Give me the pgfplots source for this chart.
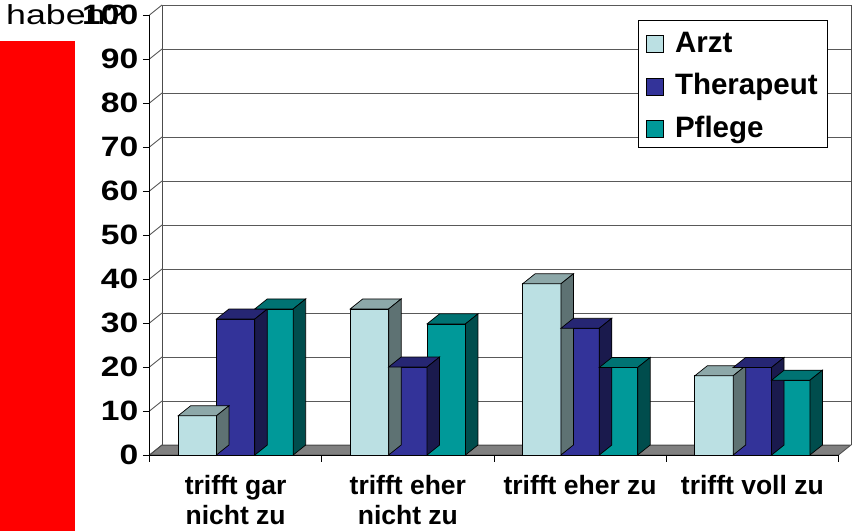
\documentclass[border=0pt]{standalone}
\usepackage{pgfplots}
\pgfplotsset{compat=1.18}
\usepackage{pgfplotstable}
\usepackage{fontspec}
\setmainfont{Liberation Sans}
\newfontfamily\tickfont{Liberation Sans}[FakeStretch=1.2]
\newfontfamily\habenfont{Liberation Sans}[FakeStretch=1.3]

\definecolor{arztF}{HTML}{BBE0E3}
\definecolor{arztT}{HTML}{8DA8A9}
\definecolor{arztS}{HTML}{5E7273}
\definecolor{thF}{HTML}{333399}
\definecolor{thT}{HTML}{262673}
\definecolor{thS}{HTML}{1A1A4D}
\definecolor{pfF}{HTML}{009999}
\definecolor{pfT}{HTML}{007373}
\definecolor{pfS}{HTML}{004D4D}
\definecolor{floorgray}{HTML}{808080}

\pgfplotstableread{
x arzt therapeut pflege
0 8.9 30.9 33.2
1 33.2 20.0 29.8
2 38.9 28.8 19.9
3 18.0 19.9 17.0
}\data

% 3D top and side faces of a bar; origin = top centre of the category
\newcommand\defbarmark[4]{%
  \pgfdeclareplotmark{#1}{%
    \pgfsetlinewidth{0.7pt}\pgfsetstrokecolor{black}%
    \pgfpathmoveto{\pgfpoint{#2-19.2pt}{0pt}}%
    \pgfpathlineto{\pgfpoint{#2+19.2pt}{0pt}}%
    \pgfpathlineto{\pgfpoint{#2+31.7pt}{10pt}}%
    \pgfpathlineto{\pgfpoint{#2-6.7pt}{10pt}}%
    \pgfpathclose
    \pgfsetfillcolor{#3}\pgfusepath{fill,stroke}%
    \pgfpathmoveto{\pgfpoint{#2+19.2pt}{0pt}}%
    \pgfpathlineto{\pgfpoint{#2+31.7pt}{10pt}}%
    \pgfpathlineto{\pgfpoint{#2+31.7pt}{10pt-4.4pt*\barval}}%
    \pgfpathlineto{\pgfpoint{#2+19.2pt}{-4.4pt*\barval}}%
    \pgfpathclose
    \pgfsetfillcolor{#4}\pgfusepath{fill,stroke}%
  }}
\defbarmark{bar3dA}{-38.4pt}{arztT}{arztS}
\defbarmark{bar3dT}{0pt}{thT}{thS}
\defbarmark{bar3dP}{38.4pt}{pfT}{pfS}

\pgfplotsset{
  sqlegend/.style={legend image code/.code={\draw[##1, draw=black, line width=0.8pt] (4pt,-11pt) rectangle (21pt,6pt);}},
  frontbar/.style={ybar, bar width=38.4pt, draw=black, line width=0.7pt},
}

\begin{document}
\begin{tikzpicture}[x=1pt,y=1pt]
\useasboundingbox (0,0) rectangle (855,531);
\fill[red] (0,0) rectangle (75,490);
\node[anchor=base west, inner sep=0pt, font=\habenfont\fontsize{27.5}{30}\selectfont] at (6,506) {haben?};
% floor and walls
\filldraw[fill=floorgray, draw=black!70, line width=0.8pt] (149.5,76) -- (838.5,76) -- (851,86) -- (162,86) -- cycle;
\foreach \v in {0,10,...,100} \draw[black!70, line width=0.8pt] (149.5,76+4.4*\v) -- (162,86+4.4*\v);
\draw[black!70, line width=0.8pt] (162,86) -- (162,526);
\draw[black!70, line width=0.8pt] (851,86) -- (851,526);
\begin{axis}[
  at={(149.5pt,76pt)}, anchor=south west,
  scale only axis, width=689pt, height=440pt,
  xmin=-0.5, xmax=3.5, ymin=0, ymax=100,
  clip=false,
  axis x line*=bottom, axis y line*=left,
  axis line style={black, line width=1pt},
  tick align=outside, major tick length=6.5pt,
  tick style={black, line width=0.8pt},
  ytick={0,10,...,100},
  yticklabel style={font=\tickfont\bfseries\fontsize{28}{30}\selectfont, inner sep=0pt, xshift=-4.5pt},
  /pgf/number format/assume math mode=true,
  xtick={-0.5,0.5,1.5,2.5,3.5}, xticklabel=\empty,
  extra x ticks={0,1,2,3},
  extra x tick labels={{trifft gar\\nicht zu},{trifft eher\\nicht zu},{trifft eher zu},{trifft voll zu}},
  extra x tick style={major tick length=0pt, xticklabel style={align=center, font=\bfseries\fontsize{26.5}{30}\selectfont, anchor=north, inner sep=0pt, yshift=-20pt}},
  ymajorgrids,
  major grid style={black!65, line width=0.8pt, xshift=12.5pt, yshift=10pt},
  legend style={at={(axis description cs:0.9848,0.9886)}, anchor=north east,
    draw=black, line width=0.8pt, fill=white,
    font=\bfseries\fontsize{29.5}{30}\selectfont,
    inner xsep=8pt, inner ysep=5pt, row sep=10.5pt, column sep=9pt,
    nodes={inner sep=2pt, text height=25pt, text depth=3pt}},
  legend cell align=left,
]
\addplot[frontbar, bar shift=-38.4pt, fill=arztF, sqlegend] table[x=x,y=arzt]{\data};
\addlegendentry{Arzt}
\addplot[only marks, mark=bar3dA, forget plot, visualization depends on={\thisrow{arzt}\as\barval}] table[x=x,y=arzt]{\data};
\addplot[frontbar, bar shift=0pt, fill=thF, sqlegend] table[x=x,y=therapeut]{\data};
\addlegendentry{Therapeut}
\addplot[only marks, mark=bar3dT, forget plot, visualization depends on={\thisrow{therapeut}\as\barval}] table[x=x,y=therapeut]{\data};
\addplot[frontbar, bar shift=38.4pt, fill=pfF, sqlegend] table[x=x,y=pflege]{\data};
\addlegendentry{Pflege}
\addplot[only marks, mark=bar3dP, forget plot, visualization depends on={\thisrow{pflege}\as\barval}] table[x=x,y=pflege]{\data};
\end{axis}
\end{tikzpicture}
\end{document}
